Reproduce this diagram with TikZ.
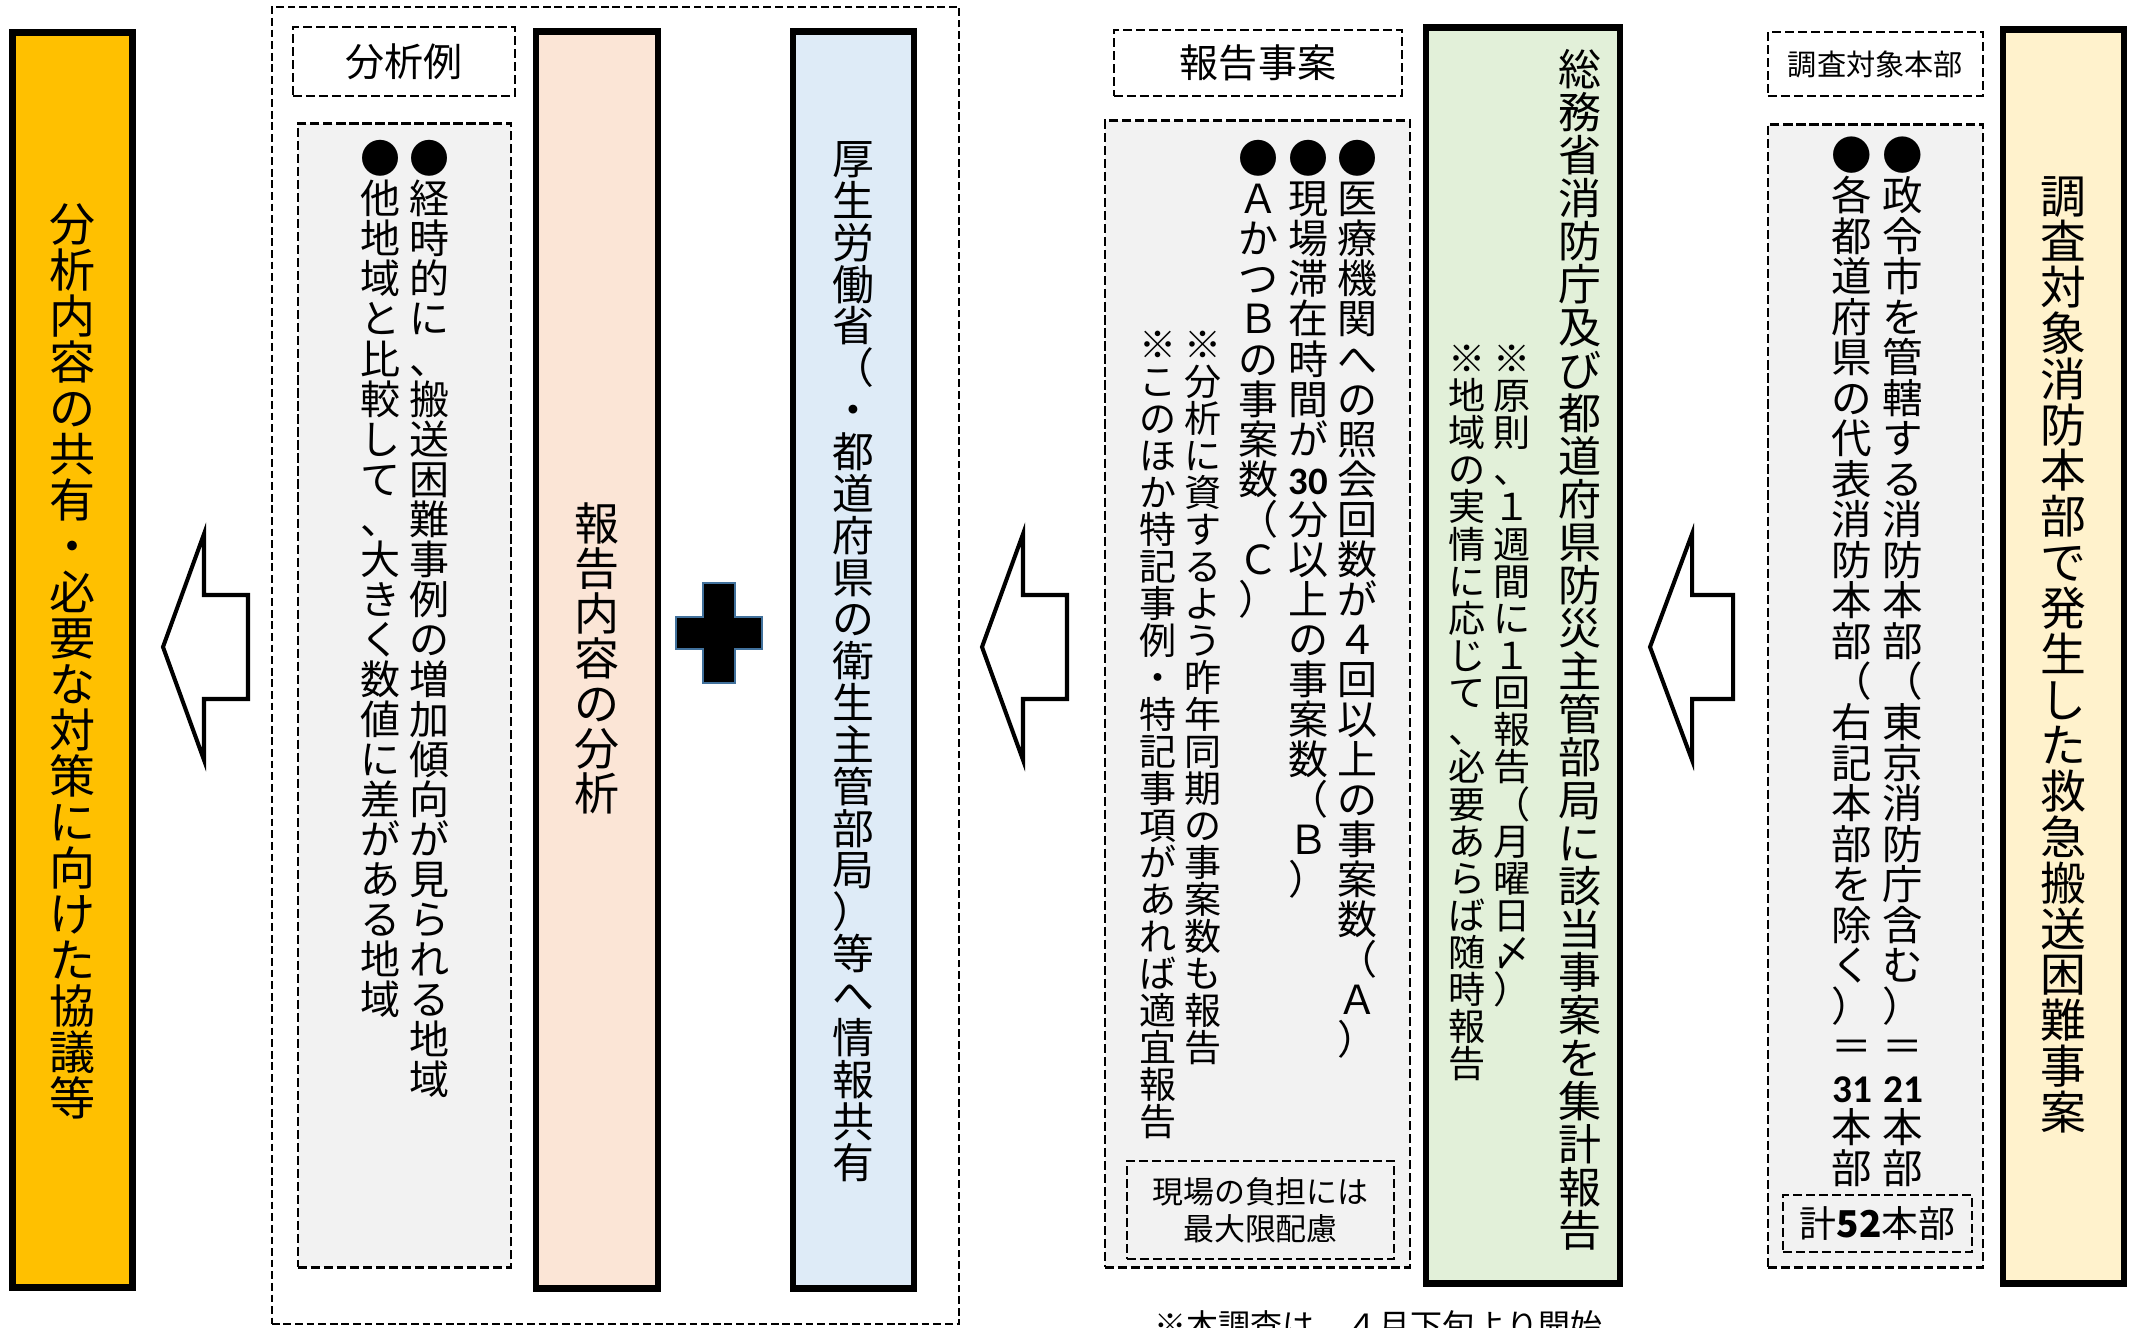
\documentclass[tikz,border=0pt]{standalone}
\usepackage{fontspec}
\setmainfont{Noto Sans CJK JP}
\newfontfamily\numfont{Carlito}[Scale=0.97]
\makeatletter
\newcommand\vcol[1]{\vtop{\offinterlineskip\@tfor\vt@c:=#1\do{\hbox to 1em{\hss\vrule height .88em depth .12em width 0pt\vt@c\hss}}}}
\makeatother
\newcommand\setfs[1]{\fontsize{#1}{#1}\selectfont}
\newcommand\bnum[1]{{\numfont\bfseries #1}}
\definecolor{cOrange}{HTML}{FFC000}
\definecolor{cPink}{HTML}{FBE5D6}
\definecolor{cBlue}{HTML}{DEEBF7}
\definecolor{cGreen}{HTML}{E2F0D9}
\definecolor{cYellow}{HTML}{FFF2CC}
\definecolor{cGray}{HTML}{F2F2F2}
\definecolor{cPlusEdge}{HTML}{41719C}
\tikzset{
  thickbox/.style={draw=black, line width=1.85pt, inner sep=0pt},
  dbox/.style={draw=black, line width=0.75pt, dash pattern=on 2.6pt off 1.1pt, inner sep=0pt},
  framebox/.style={draw=black, line width=0.6pt, dash pattern=on 2.2pt off 1.1pt, inner sep=0pt},
  vt/.style={inner sep=0pt, anchor=north, text=black},
  blockarrow/.style={draw=black, fill=white, line width=1.15pt, line join=miter},
}
\begin{document}
\begin{tikzpicture}[x=0.01cm, y=-0.01cm]
\useasboundingbox (0,0) rectangle (2134,1328);
\clip (0,0) rectangle (2134,1328);

% ---- left part ----
\node[thickbox, fill=cOrange, minimum width=1.2cm, minimum height=12.54cm] (orange) at (72.5,660) {};
\node[vt, font=\setfs{13.09pt}] (t-orange) at (72.5,200) {\vcol{分析内容の共有・必要な対策に向けた協議等}};

\coordinate (a1) at (163,647);
\draw[blockarrow] (a1) -- ++(41,-113) -- ++(0,61) -- ++(44,0) -- ++(0,104) -- ++(-44,0) -- ++(0,61) -- cycle;

\node[framebox, minimum width=6.87cm, minimum height=13.17cm] (frame) at (615.5,665.5) {};
\node[dbox, minimum width=2.22cm, minimum height=0.69cm, font=\setfs{11.1pt}] (bunseki) at (404,61.5) {分析例};
\node[dbox, fill=cGray, minimum width=2.13cm, minimum height=11.43cm] (lgray) at (404.5,695.5) {};
\node[vt, font=\setfs{11.38pt}] (l1) at (430,138) {\vcol{●経時的に、搬送困難事例の増加傾向が見られる地域}};
\node[vt, font=\setfs{11.38pt}] (l2) at (381,138) {\vcol{●他地域と比較して、大きく数値に差がある地域}};

\node[thickbox, fill=cPink, minimum width=1.22cm, minimum height=12.56cm] (pink) at (597,660) {};
\node[vt, font=\setfs{12.8pt}] (t-pink) at (597,500) {\vcol{報告内容の分析}};

\fill[black, draw=cPlusEdge, line width=0.45pt] (719,633) ++(-16,-50) -- ++(32,0) -- ++(0,34) -- ++(27,0) -- ++(0,32) -- ++(-27,0) -- ++(0,34) -- ++(-32,0) -- ++(0,-34) -- ++(-27,0) -- ++(0,-32) -- ++(27,0) -- cycle;
\coordinate (plus) at (719,633);

\node[thickbox, fill=cBlue, minimum width=1.21cm, minimum height=12.56cm] (blue) at (853.5,660) {};
\node[vt, font=\setfs{11.9pt}] (t-blue) at (853.5,137) {\vcol{厚生労働省（・都道府県の衛生主管部局）等へ情報共有}};

% ---- middle part ----
\coordinate (a2) at (982,647);
\draw[blockarrow] (a2) -- ++(41,-113) -- ++(0,61) -- ++(44,0) -- ++(0,104) -- ++(-44,0) -- ++(0,61) -- cycle;

\node[dbox, minimum width=2.88cm, minimum height=0.66cm, font=\setfs{11.1pt}] (houkoku) at (1258,63) {報告事案};
\node[dbox, fill=cGray, minimum width=3.05cm, minimum height=11.46cm] (mgray) at (1257.5,694) {};
\node[vt, font=\setfs{11.38pt}] (m1) at (1357,138) {\vcol{●医療機関への照会回数が４回以上の事案数（Ａ）}};
\node[vt, font=\setfs{11.38pt}] (m2) at (1308,138) {\vcol{●現場滞在時間が{\bnum{30}}分以上の事案数（Ｂ）}};
\node[vt, font=\setfs{11.38pt}] (m3) at (1258,138) {\vcol{●ＡかつＢの事案数（Ｃ）}};
\node[vt, font=\setfs{10.53pt}] (m4) at (1203,325) {\vcol{※分析に資するよう昨年同期の事案数も報告}};
\node[vt, font=\setfs{10.53pt}] (m5) at (1158,325) {\vcol{※このほか特記事例・特記事項があれば適宜報告}};
\node[dbox, minimum width=2.67cm, minimum height=0.98cm, font=\setfs{8.8pt}, align=center] (futan) at (1260.5,1210) {現場の負担には\\[1.6pt]最大限配慮};

\node[thickbox, fill=cGreen, minimum width=1.94cm, minimum height=12.55cm] (green) at (1523,655.5) {};
\node[vt, font=\setfs{12.23pt}] (g1) at (1580,47) {\vcol{総務省消防庁及び都道府県防災主管部局に該当事案を集計報告}};
\node[vt, font=\setfs{10.56pt}] (g2) at (1512,339) {\vcol{※原則、１週間に１回報告（月曜日〆）}};
\node[vt, font=\setfs{10.56pt}] (g3) at (1467,339) {\vcol{※地域の実情に応じて、必要あらば随時報告}};

\node[anchor=base west, inner sep=0pt, font=\setfs{9.1pt}] (note) at (1154,1337) {※本調査は、４月下旬より開始};

% ---- right part ----
\coordinate (a3) at (1650,647);
\draw[blockarrow] (a3) -- ++(42,-113) -- ++(0,61) -- ++(41,0) -- ++(0,104) -- ++(-41,0) -- ++(0,61) -- cycle;

\node[dbox, minimum width=2.15cm, minimum height=0.64cm, font=\setfs{8.3pt}] (taisho) at (1875.5,64) {調査対象本部};
\node[dbox, fill=cGray, minimum width=2.15cm, minimum height=11.42cm] (rgray) at (1875.5,696) {};
\node[vt, font=\setfs{11.52pt}] (r1) at (1903,134) {\vcol{●政令市を管轄する消防本部（東京消防庁含む）＝{\bnum{21}}本部}};
\node[vt, font=\setfs{11.52pt}] (r2) at (1852,134) {\vcol{●各都道府県の代表消防本部（右記本部を除く）＝{\bnum{31}}本部}};
\node[dbox, minimum width=1.89cm, minimum height=0.57cm, font=\setfs{10.5pt}] (kei) at (1877.5,1223.5) {計{\bfseries 52}本部};

\node[thickbox, fill=cYellow, minimum width=1.21cm, minimum height=12.53cm] (yellow) at (2063.5,656.5) {};
\node[vt, font=\setfs{13.03pt}] (t-yellow) at (2063.5,172) {\vcol{調査対象消防本部で発生した救急搬送困難事案}};
\end{tikzpicture}
\end{document}
